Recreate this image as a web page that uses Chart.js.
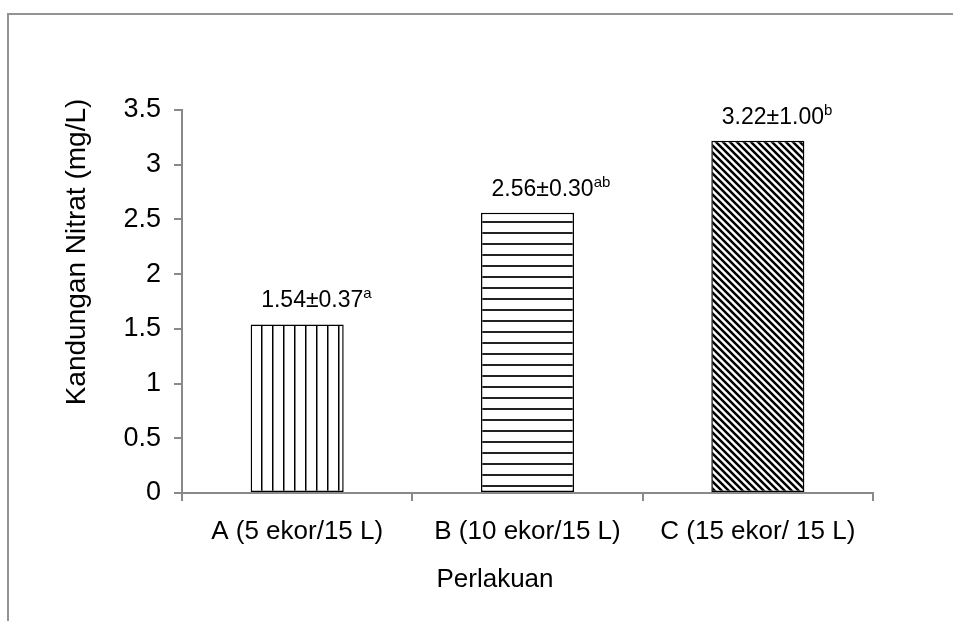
<!DOCTYPE html>
<html>
<head>
<meta charset="utf-8">
<script src="https://cdn.jsdelivr.net/npm/chart.js@4"></script>
<style>
  html, body { margin: 0; padding: 0; background: #fff; }
  #wrap { position: relative; width: 953px; height: 621px; }
  #frame { position: absolute; left: 7px; top: 13px; right: 0; bottom: 0;
           border-left: 2px solid #939393; border-top: 2px solid #939393; }
  canvas { position: absolute; left: 0; top: 0; }
</style>
</head>
<body>
<div id="wrap">
  <div id="frame"></div>
  <canvas id="chart" width="953" height="621"></canvas>
</div>
<script>
// ─── Data ────────────────────────────────────────────────────────────────────
const categories = ['A (5 ekor/15 L)', 'B (10 ekor/15 L)', 'C (15 ekor/ 15 L)'];
const nitrat = [1.54, 2.56, 3.22];
const stdev = ['0.37', '0.30', '1.00'];
const notasi = ['a', 'ab', 'b'];
const yTicks = [0, 0.5, 1, 1.5, 2, 2.5, 3, 3.5];

const FONT = '"Liberation Sans", Arial, sans-serif';
const AXIS_GREY = '#898989';

// ─── Fill patterns ───────────────────────────────────────────────────────────
function makePattern(kind) {
  const tile = document.createElement('canvas');
  const s = kind === 'diag' ? 7 : 11;
  tile.width = s;
  tile.height = s;
  const t = tile.getContext('2d');
  t.fillStyle = '#fff';
  t.fillRect(0, 0, s, s);
  t.fillStyle = '#000';
  if (kind === 'vert') {
    t.fillRect(8, 0, 1.5, s);
  } else if (kind === 'horz') {
    t.fillStyle = '#222';
    t.fillRect(0, 1, s, 2);
  } else {
    t.strokeStyle = '#000';
    t.lineWidth = 2.5;
    t.beginPath();
    t.moveTo(-s, 0); t.lineTo(s, 2 * s);
    t.moveTo(-1, -1); t.lineTo(s + 1, s + 1);
    t.moveTo(0, -s); t.lineTo(2 * s, s);
    t.stroke();
  }
  return document.getElementById('chart').getContext('2d').createPattern(tile, 'repeat');
}

// ─── Labels & titles ─────────────────────────────────────────────────────────
const decor = {
  id: 'decor',
  afterDatasetsDraw(chart) {
    const ctx = chart.ctx;
    const meta = chart.getDatasetMeta(0);
    ctx.save();
    ctx.fillStyle = '#000';
    ctx.textBaseline = 'alphabetic';
    ctx.textAlign = 'left';
    meta.data.forEach((bar, i) => {
      const main = nitrat[i].toFixed(2) + '±' + stdev[i];
      const x = bar.x - 36;
      const y = bar.y - 17;
      ctx.font = '23px ' + FONT;
      ctx.fillText(main, x, y);
      const w = ctx.measureText(main).width;
      ctx.font = '15px ' + FONT;
      ctx.fillText(notasi[i], x + w, y - 9);
    });

    ctx.textAlign = 'center';
    ctx.font = '26px ' + FONT;
    ctx.fillText('Perlakuan', 495, 587);
    ctx.font = '28px ' + FONT;
    ctx.translate(85, 252);
    ctx.rotate(-Math.PI / 2);
    ctx.fillText('Kandungan Nitrat (mg/L)', 0, 0);
    ctx.restore();
  },
};

new Chart(document.getElementById('chart'), {
  type: 'bar',
  data: {
    labels: categories,
    datasets: [{
      data: nitrat,
      backgroundColor: [makePattern('vert'), makePattern('horz'), makePattern('diag')],
      borderColor: '#000',
      borderWidth: 1.5,
      borderSkipped: false,
      barPercentage: 0.404,
      categoryPercentage: 1,
    }],
  },
  options: {
    responsive: false,
    animation: false,
    layout: { padding: { top: 110, right: 80, left: 0, bottom: 0 } },
    plugins: { legend: { display: false }, tooltip: { enabled: false } },
    scales: {
      x: {
        grid: { offset: true, drawOnChartArea: false, tickLength: 8, color: AXIS_GREY, lineWidth: 2 },
        border: { color: AXIS_GREY, width: 2 },
        ticks: { color: '#000', font: { family: FONT, size: 26 }, padding: 15, maxRotation: 0 },
        afterFit: s => { s.height = 128; },
      },
      y: {
        min: 0,
        max: 3.5,
        afterBuildTicks: s => { s.ticks = yTicks.map(v => ({ value: v })); },
        grid: { drawOnChartArea: false, tickLength: 8, color: AXIS_GREY, lineWidth: 2 },
        border: { color: AXIS_GREY, width: 2 },
        ticks: { color: '#000', font: { family: FONT, size: 27 }, padding: 13, callback: v => String(v) },
        afterFit: s => { s.width = 182; },
      },
    },
  },
  plugins: [decor],
});
</script>
</body>
</html>
